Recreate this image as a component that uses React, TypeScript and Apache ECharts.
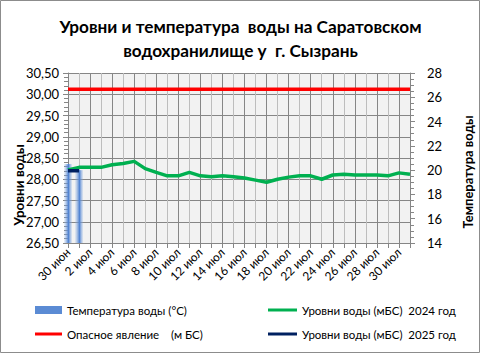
import React, { useEffect, useRef } from 'react';
import * as echarts from 'echarts';

const dates = [
  '30 июн', '1 июл', '2 июл', '3 июл', '4 июл', '5 июл', '6 июл', '7 июл', '8 июл', '9 июл',
  '10 июл', '11 июл', '12 июл', '13 июл', '14 июл', '15 июл', '16 июл', '17 июл', '18 июл', '19 июл',
  '20 июл', '21 июл', '22 июл', '23 июл', '24 июл', '25 июл', '26 июл', '27 июл', '28 июл', '29 июл',
  '30 июл', '31 июл',
];

const level2024 = [
  28.22, 28.28, 28.28, 28.28, 28.34, 28.37, 28.42, 28.25, 28.16, 28.08,
  28.08, 28.16, 28.08, 28.06, 28.08, 28.06, 28.03, 27.98, 27.93, 28.0,
  28.05, 28.08, 28.08, 28.0, 28.1, 28.12, 28.1, 28.1, 28.1, 28.08,
  28.15, 28.12,
];

const level2025: (number | null)[] = [28.2, 28.2];

const dangerLevel = dates.map(() => 30.12);

const temperature: (number | null)[] = [20.5, 20.0];

const titleLines = ['Уровни и температура  воды на Саратовском', 'водохранилище у  г. Сызрань'];

const NAME_TEMP = 'Температура воды (°С)';
const NAME_DANGER = 'Опасное явление    (м БС)';
const NAME_2024 = 'Уровни воды (мБС)  2024 год';
const NAME_2025 = 'Уровни воды (мБС)  2025 год';

const FONT = 'Lato';

export default function App() {
  const ref = useRef<HTMLDivElement>(null);
  useEffect(() => {
    const chart = echarts.init(ref.current!, null, { renderer: 'svg' });
    const barGrad = new echarts.graphic.LinearGradient(0, 0, 1, 0, [
      { offset: 0, color: 'rgba(140,175,225,0.15)' },
      { offset: 0.55, color: '#4f82d2' },
      { offset: 1, color: 'rgba(140,175,225,0.2)' },
    ]);
    const legendText = { fontFamily: FONT, fontSize: 11.5, color: '#000' };
    chart.setOption({
      animation: false,
      backgroundColor: '#ffffff',
      textStyle: { fontFamily: FONT },
      title: {
        text: titleLines.join('\n'),
        left: 'center',
        top: 9,
        textStyle: { fontFamily: FONT, fontSize: 17.2, fontWeight: 'bold', color: '#000', lineHeight: 24 },
      },
      grid: {
        left: 68, right: 71, top: 73, bottom: 111,
        show: true, backgroundColor: '#f2f2f2', borderWidth: 0,
      },
      legend: [
        {
          data: [{ name: NAME_TEMP, icon: 'rect', itemStyle: { color: '#5b8bd4' } }],
          left: 30, top: 299, itemWidth: 27, itemHeight: 8, padding: 5,
          textStyle: legendText,
        },
        {
          data: [{ name: NAME_DANGER, icon: 'rect' }],
          left: 30, top: 323, itemWidth: 27, itemHeight: 3, padding: 5,
          textStyle: legendText,
        },
        {
          data: [{ name: NAME_2024, icon: 'rect' }],
          left: 263, top: 299, itemWidth: 29, itemHeight: 3, padding: 5,
          textStyle: legendText,
        },
        {
          data: [{ name: NAME_2025, icon: 'rect' }],
          left: 263, top: 323, itemWidth: 29, itemHeight: 3, padding: 5,
          textStyle: legendText,
        },
      ],
      xAxis: {
        type: 'category',
        data: dates,
        boundaryGap: false,
        axisLine: { lineStyle: { color: '#868686' } },
        axisTick: { show: true, interval: 0, length: 5, lineStyle: { color: '#868686' } },
        axisLabel: { interval: 1, rotate: 45, fontSize: 12, color: '#000', margin: 7, fontFamily: FONT },
        splitLine: { show: true, interval: 0, lineStyle: { color: ['#868686', '#bdbdbd'], width: 1 } },
      },
      yAxis: [
        {
          type: 'value',
          min: 26.5, max: 30.5, interval: 0.5,
          axisLine: { show: true, lineStyle: { color: '#868686' } },
          axisTick: { show: true, length: 5, lineStyle: { color: '#868686' } },
          minorTick: { show: true, splitNumber: 5, length: 4, lineStyle: { color: '#868686' } },
          axisLabel: {
            fontSize: 13, color: '#000', margin: 9, fontFamily: FONT,
            formatter: (v: number) => v.toFixed(2).replace('.', ','),
          },
          splitLine: { show: true, lineStyle: { color: '#868686' } },
        },
        {
          type: 'value',
          min: 14, max: 28, interval: 2,
          position: 'right',
          axisLine: { show: true, lineStyle: { color: '#868686' } },
          axisTick: { show: true, length: 5, lineStyle: { color: '#868686' } },
          minorTick: { show: true, splitNumber: 4, length: 4, lineStyle: { color: '#868686' } },
          axisLabel: { fontSize: 13, color: '#000', margin: 17, fontFamily: FONT },
          splitLine: { show: false },
        },
      ],
      series: [
        {
          name: NAME_TEMP,
          type: 'bar',
          yAxisIndex: 1,
          data: temperature,
          barWidth: 8,
          clip: true,
          itemStyle: { color: barGrad },
          z: 1,
        },
        {
          name: NAME_DANGER,
          type: 'line',
          data: dangerLevel,
          showSymbol: false,
          symbol: 'none',
          itemStyle: { color: '#ff0000' },
          lineStyle: { color: '#ff0000', width: 3.5 },
          z: 2,
        },
        {
          name: NAME_2024,
          type: 'line',
          data: level2024,
          showSymbol: false,
          symbol: 'none',
          itemStyle: { color: '#00b050' },
          lineStyle: { color: '#00b050', width: 3.5 },
          z: 3,
        },
        {
          name: NAME_2025,
          type: 'line',
          data: level2025,
          showSymbol: false,
          symbol: 'none',
          itemStyle: { color: '#002060' },
          lineStyle: { color: '#002060', width: 3.5 },
          z: 4,
        },
      ],
      graphic: [
        {
          type: 'rect',
          shape: { x: 0.5, y: 0.5, width: 479, height: 352 },
          style: { fill: 'none', stroke: '#8c8c8c', lineWidth: 1 },
          silent: true,
        },
        {
          type: 'text',
          x: 19, y: 185, rotation: Math.PI / 2,
          style: {
            text: 'Уровни воды', fontFamily: FONT, fontSize: 13.5, fontWeight: 'bold', fill: '#000',
            textAlign: 'center', textVerticalAlign: 'middle',
          },
        },
        {
          type: 'text',
          x: 468, y: 172, rotation: Math.PI / 2,
          style: {
            text: 'Температура воды', fontFamily: FONT, fontSize: 13, fontWeight: 'bold', fill: '#000',
            textAlign: 'center', textVerticalAlign: 'middle',
          },
        },
      ],
    });
    return () => chart.dispose();
  }, []);
  return (
    <div
      ref={ref}
      style={{ position: 'absolute', left: 0, top: 0, width: 481, height: 354, background: '#fff' }}
    />
  );
}
